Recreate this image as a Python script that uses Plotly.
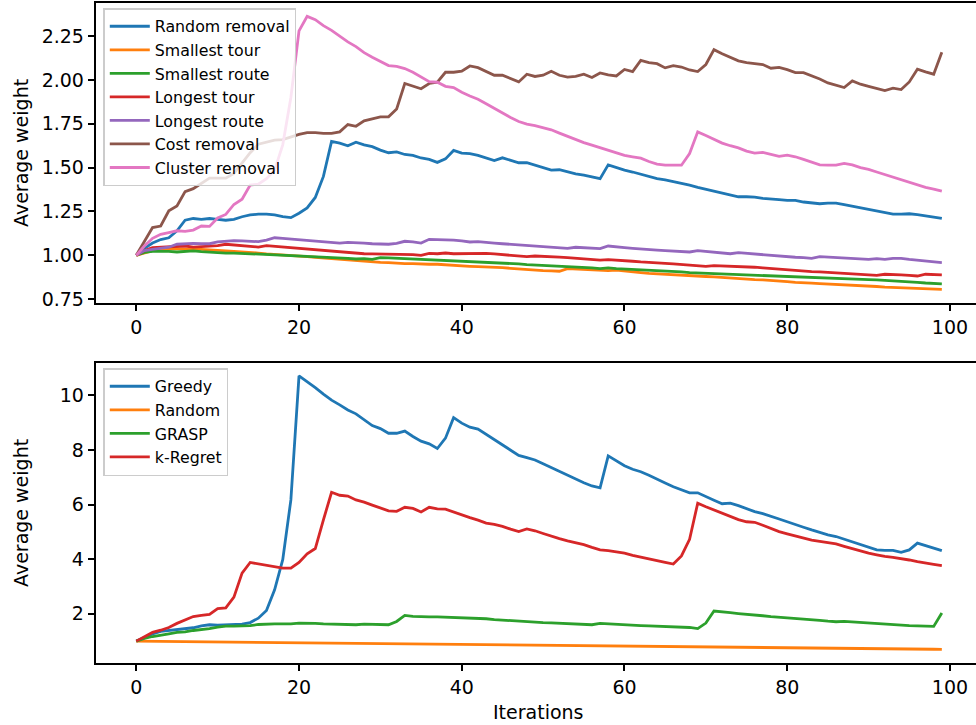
import plotly.graph_objects as go

iterations = list(range(100))

random_removal = [1.0, 1.04, 1.07, 1.09, 1.10, 1.14, 1.20, 1.21, 1.205, 1.21,
                  1.205, 1.20, 1.205, 1.22, 1.23, 1.235, 1.235, 1.23, 1.22, 1.215,
                  1.24, 1.27, 1.33, 1.45, 1.65, 1.64, 1.625, 1.645, 1.63, 1.62,
                  1.60, 1.585, 1.59, 1.575, 1.57, 1.555, 1.547, 1.53, 1.55, 1.598,
                  1.583, 1.58, 1.57, 1.556, 1.54, 1.556, 1.54, 1.528, 1.528, 1.514,
                  1.50, 1.486, 1.488, 1.476, 1.465, 1.457, 1.448, 1.437, 1.516, 1.50,
                  1.486, 1.475, 1.461, 1.448, 1.437, 1.43, 1.42, 1.412, 1.40, 1.387,
                  1.376, 1.364, 1.353, 1.342, 1.334, 1.334, 1.332, 1.325, 1.323, 1.317,
                  1.313, 1.313, 1.304, 1.298, 1.294, 1.298, 1.298, 1.289, 1.28, 1.27,
                  1.26, 1.25, 1.243, 1.235, 1.235, 1.237, 1.232, 1.226, 1.218, 1.21]

smallest_tour = [1.0, 1.015, 1.027, 1.034, 1.036, 1.038, 1.034, 1.038, 1.034, 1.03,
                 1.027, 1.025, 1.023, 1.021, 1.017, 1.013, 1.008, 1.004, 1.002, 0.998,
                 0.996, 0.992, 0.989, 0.985, 0.981, 0.977, 0.973, 0.97, 0.966, 0.962,
                 0.96, 0.958, 0.954, 0.953, 0.953, 0.949, 0.949, 0.949, 0.945, 0.943,
                 0.941, 0.937, 0.935, 0.934, 0.932, 0.93, 0.926, 0.922, 0.918, 0.916,
                 0.913, 0.911, 0.909, 0.924, 0.922, 0.92, 0.916, 0.915, 0.913, 0.915,
                 0.909, 0.905, 0.901, 0.897, 0.894, 0.89, 0.888, 0.886, 0.882, 0.879,
                 0.879, 0.877, 0.873, 0.869, 0.865, 0.863, 0.861, 0.86, 0.858, 0.854,
                 0.85, 0.846, 0.842, 0.841, 0.839, 0.837, 0.835, 0.831, 0.829, 0.827,
                 0.823, 0.822, 0.818, 0.816, 0.814, 0.812, 0.81, 0.81, 0.808, 0.806]

smallest_route = [1.0, 1.017, 1.023, 1.025, 1.023, 1.019, 1.021, 1.025, 1.021, 1.017,
                  1.015, 1.013, 1.013, 1.011, 1.008, 1.006, 1.006, 1.004, 1.002, 0.998,
                  0.996, 0.992, 0.99, 0.99, 0.987, 0.985, 0.983, 0.979, 0.981, 0.977,
                  0.987, 0.985, 0.983, 0.981, 0.977, 0.975, 0.975, 0.972, 0.97, 0.968,
                  0.966, 0.962, 0.96, 0.958, 0.96, 0.956, 0.954, 0.951, 0.947, 0.945,
                  0.941, 0.939, 0.937, 0.934, 0.934, 0.93, 0.928, 0.924, 0.928, 0.924,
                  0.922, 0.92, 0.916, 0.913, 0.915, 0.911, 0.907, 0.905, 0.901, 0.899,
                  0.897, 0.896, 0.894, 0.892, 0.89, 0.888, 0.886, 0.884, 0.882, 0.88,
                  0.877, 0.875, 0.873, 0.871, 0.869, 0.867, 0.865, 0.867, 0.865, 0.863,
                  0.861, 0.86, 0.858, 0.854, 0.852, 0.848, 0.846, 0.842, 0.841, 0.837]

longest_tour = [1.0, 1.027, 1.044, 1.047, 1.049, 1.049, 1.053, 1.047, 1.049, 1.053,
                1.055, 1.063, 1.059, 1.055, 1.051, 1.047, 1.055, 1.051, 1.049, 1.046,
                1.042, 1.038, 1.034, 1.03, 1.027, 1.023, 1.017, 1.013, 1.009, 1.008,
                1.008, 1.006, 1.004, 1.006, 1.004, 1.0, 1.011, 1.009, 1.013, 1.009,
                1.009, 1.011, 1.013, 1.011, 1.008, 1.004, 1.0, 0.996, 0.992, 0.996,
                0.994, 0.996, 0.99, 0.987, 0.983, 0.979, 0.975, 0.972, 0.975, 0.973,
                0.97, 0.966, 0.962, 0.958, 0.956, 0.954, 0.951, 0.947, 0.945, 0.941,
                0.937, 0.941, 0.939, 0.941, 0.939, 0.935, 0.932, 0.928, 0.924, 0.92,
                0.916, 0.913, 0.911, 0.907, 0.905, 0.901, 0.899, 0.897, 0.894, 0.892,
                0.888, 0.886, 0.892, 0.892, 0.888, 0.886, 0.882, 0.892, 0.892, 0.888]

longest_route = [1.0, 1.027, 1.034, 1.04, 1.046, 1.063, 1.066, 1.068, 1.066, 1.066,
                 1.076, 1.08, 1.084, 1.082, 1.078, 1.078, 1.087, 1.10, 1.097, 1.093,
                 1.09, 1.085, 1.084, 1.08, 1.076, 1.07, 1.074, 1.074, 1.07, 1.066,
                 1.065, 1.063, 1.068, 1.08, 1.076, 1.07, 1.091, 1.089, 1.091, 1.087,
                 1.082, 1.076, 1.078, 1.076, 1.07, 1.066, 1.063, 1.061, 1.055, 1.051,
                 1.049, 1.046, 1.042, 1.04, 1.046, 1.044, 1.04, 1.038, 1.053, 1.047,
                 1.044, 1.04, 1.038, 1.034, 1.03, 1.027, 1.023, 1.023, 1.019, 1.027,
                 1.023, 1.019, 1.011, 1.009, 1.015, 1.011, 1.006, 1.002, 0.998, 0.996,
                 0.992, 0.989, 0.987, 0.983, 0.992, 0.99, 0.989, 0.985, 0.983, 0.979,
                 0.977, 0.981, 0.977, 0.983, 0.983, 0.977, 0.973, 0.968, 0.964, 0.958]

cost_removal = [1.0, 1.078, 1.158, 1.167, 1.254, 1.281, 1.363, 1.38, 1.41, 1.44,
                1.44, 1.44, 1.467, 1.524, 1.585, 1.634, 1.647, 1.657, 1.66, 1.676,
                1.69, 1.70, 1.70, 1.695, 1.695, 1.704, 1.746, 1.736, 1.767, 1.778,
                1.79, 1.79, 1.835, 1.98, 1.964, 1.95, 1.98, 1.987, 2.044, 2.044,
                2.05, 2.08, 2.07, 2.05, 2.027, 2.027, 2.006, 1.989, 2.033, 2.02,
                2.027, 2.05, 2.027, 2.016, 2.021, 2.033, 2.014, 2.04, 2.029, 2.023,
                2.06, 2.048, 2.112, 2.099, 2.093, 2.069, 2.082, 2.074, 2.057, 2.048,
                2.088, 2.173, 2.15, 2.128, 2.109, 2.099, 2.093, 2.088, 2.067, 2.072,
                2.059, 2.042, 2.042, 2.025, 2.006, 1.983, 1.968, 1.957, 1.995, 1.976,
                1.964, 1.951, 1.94, 1.953, 1.945, 1.989, 2.061, 2.046, 2.033, 2.158]

cluster_removal = [1.0, 1.053, 1.097, 1.12, 1.13, 1.14, 1.137, 1.144, 1.167, 1.165,
                   1.213, 1.233, 1.29, 1.32, 1.40, 1.406, 1.437, 1.486, 1.63, 1.90,
                   2.28, 2.363, 2.344, 2.31, 2.283, 2.25, 2.217, 2.19, 2.156, 2.13,
                   2.107, 2.082, 2.078, 2.065, 2.044, 2.017, 1.99, 1.987, 1.964, 1.957,
                   1.93, 1.909, 1.89, 1.864, 1.837, 1.812, 1.786, 1.763, 1.748, 1.74,
                   1.729, 1.716, 1.697, 1.678, 1.659, 1.643, 1.628, 1.613, 1.598, 1.585,
                   1.57, 1.562, 1.554, 1.535, 1.52, 1.514, 1.514, 1.514, 1.58, 1.704,
                   1.683, 1.66, 1.64, 1.625, 1.613, 1.594, 1.583, 1.587, 1.575, 1.564,
                   1.571, 1.562, 1.547, 1.531, 1.516, 1.514, 1.514, 1.524, 1.516, 1.50,
                   1.49, 1.475, 1.46, 1.448, 1.433, 1.418, 1.402, 1.387, 1.378, 1.366]

greedy = [1.0, 1.14, 1.26, 1.36, 1.39, 1.44, 1.46, 1.49, 1.56, 1.60,
          1.59, 1.60, 1.60, 1.62, 1.68, 1.84, 2.12, 2.88, 3.98, 6.17,
          10.71, 10.5, 10.28, 10.04, 9.82, 9.65, 9.46, 9.32, 9.10, 8.89,
          8.78, 8.61, 8.61, 8.69, 8.49, 8.32, 8.22, 8.05, 8.43, 9.18,
          8.98, 8.83, 8.76, 8.57, 8.38, 8.18, 7.99, 7.80, 7.72, 7.63,
          7.49, 7.35, 7.19, 7.07, 6.94, 6.80, 6.68, 6.61, 7.78, 7.61,
          7.42, 7.29, 7.20, 7.07, 6.94, 6.79, 6.65, 6.55, 6.43, 6.43,
          6.28, 6.16, 6.03, 6.05, 5.96, 5.84, 5.74, 5.67, 5.56, 5.47,
          5.37, 5.26, 5.17, 5.07, 4.98, 4.89, 4.83, 4.73, 4.64, 4.54,
          4.44, 4.34, 4.32, 4.32, 4.25, 4.34, 4.59, 4.50, 4.40, 4.31]

random_insert = [1.0, 0.997, 0.994, 0.990, 0.987, 0.984, 0.981, 0.978, 0.975, 0.972,
                 0.969, 0.966, 0.963, 0.960, 0.957, 0.953, 0.950, 0.947, 0.944, 0.941,
                 0.938, 0.935, 0.932, 0.929, 0.926, 0.923, 0.920, 0.917, 0.914, 0.911,
                 0.908, 0.905, 0.902, 0.899, 0.896, 0.893, 0.890, 0.887, 0.884, 0.881,
                 0.878, 0.875, 0.872, 0.869, 0.866, 0.863, 0.860, 0.857, 0.854, 0.851,
                 0.848, 0.845, 0.842, 0.839, 0.836, 0.833, 0.830, 0.827, 0.824, 0.821,
                 0.818, 0.815, 0.812, 0.809, 0.806, 0.803, 0.800, 0.797, 0.794, 0.791,
                 0.788, 0.785, 0.782, 0.779, 0.776, 0.773, 0.770, 0.767, 0.764, 0.761,
                 0.758, 0.755, 0.752, 0.749, 0.746, 0.743, 0.740, 0.737, 0.734, 0.731,
                 0.728, 0.725, 0.722, 0.719, 0.716, 0.713, 0.710, 0.707, 0.704, 0.701]

grasp = [1.0, 1.10, 1.17, 1.23, 1.27, 1.32, 1.34, 1.39, 1.42, 1.46,
         1.51, 1.55, 1.55, 1.55, 1.57, 1.61, 1.63, 1.63, 1.63, 1.63,
         1.66, 1.66, 1.65, 1.63, 1.62, 1.61, 1.60, 1.60, 1.62, 1.61,
         1.60, 1.60, 1.72, 1.94, 1.91, 1.89, 1.89, 1.89, 1.88, 1.87,
         1.84, 1.85, 1.84, 1.82, 1.79, 1.77, 1.74, 1.73, 1.71, 1.70,
         1.68, 1.67, 1.66, 1.65, 1.63, 1.62, 1.60, 1.65, 1.63, 1.62,
         1.61, 1.59, 1.57, 1.56, 1.55, 1.54, 1.52, 1.51, 1.50, 1.46,
         1.66, 2.10, 2.06, 2.04, 2.01, 1.99, 1.95, 1.93, 1.90, 1.88,
         1.85, 1.83, 1.81, 1.78, 1.76, 1.73, 1.71, 1.72, 1.70, 1.67,
         1.66, 1.63, 1.61, 1.60, 1.59, 1.57, 1.56, 1.55, 1.54, 2.03]

k_regret = [1.0, 1.17, 1.32, 1.40, 1.50, 1.65, 1.78, 1.90, 1.94, 1.98,
            2.19, 2.22, 2.61, 3.49, 3.88, 3.83, 3.77, 3.71, 3.67, 3.67,
            3.88, 4.20, 4.39, 5.44, 6.45, 6.34, 6.31, 6.17, 6.09, 5.98,
            5.87, 5.77, 5.75, 5.90, 5.86, 5.73, 5.90, 5.84, 5.83, 5.72,
            5.62, 5.52, 5.43, 5.32, 5.27, 5.20, 5.10, 5.01, 5.11, 5.04,
            4.94, 4.84, 4.75, 4.67, 4.61, 4.53, 4.43, 4.34, 4.31, 4.26,
            4.22, 4.14, 4.07, 4.00, 3.94, 3.88, 3.82, 4.12, 4.73, 6.05,
            5.92, 5.80, 5.68, 5.56, 5.45, 5.37, 5.35, 5.24, 5.12, 5.01,
            4.93, 4.85, 4.78, 4.70, 4.65, 4.60, 4.56, 4.47, 4.38, 4.29,
            4.22, 4.16, 4.10, 4.07, 4.03, 3.97, 3.91, 3.85, 3.81, 3.76]

top_names = ["Random removal", "Smallest tour", "Smallest route", "Longest tour",
             "Longest route", "Cost removal", "Cluster removal"]
top_series = [random_removal, smallest_tour, smallest_route, longest_tour,
              longest_route, cost_removal, cluster_removal]
bottom_names = ["Greedy", "Random", "GRASP", "k-Regret"]
bottom_series = [greedy, random_insert, grasp, k_regret]

colors = ["#1f77b4", "#ff7f0e", "#2ca02c", "#d62728", "#9467bd", "#8c564b", "#e377c2"]

FONT = "DejaVu Sans"
LW = 2.8
W, H = 976, 725
ML, MR, MT, MB = 96, 0, 3, 62

fig = go.Figure()
for name, ys, c in zip(top_names, top_series, colors):
    fig.add_trace(go.Scatter(x=iterations, y=ys, mode="lines", name=name,
                             line=dict(color=c, width=LW), xaxis="x", yaxis="y",
                             legend="legend"))
for name, ys, c in zip(bottom_names, bottom_series, colors):
    fig.add_trace(go.Scatter(x=iterations, y=ys, mode="lines", name=name,
                             line=dict(color=c, width=LW), xaxis="x2", yaxis="y2",
                             legend="legend2"))

axis_common = dict(showline=True, linecolor="black", linewidth=1.5,
                   ticks="outside", ticklen=6.5, tickwidth=1.5, tickcolor="black",
                   showgrid=False, zeroline=False, automargin=False,
                   tickfont=dict(family=FONT, size=19, color="black"))

x_ticks = dict(tickmode="array", tickvals=[0, 20, 40, 60, 80, 100],
               ticktext=["0", "20", "40", "60", "80", "100"])

legend_common = dict(bgcolor="rgba(255,255,255,0.8)", bordercolor="#cccccc",
                     borderwidth=1.5, xanchor="left", yanchor="top",
                     font=dict(family=FONT, size=15.8, color="black"),
                     itemwidth=40, tracegroupgap=0)

plot_h = H - MT - MB
top_dom = [(H - MB - 303) / plot_h, 1]
bot_dom = [0, (H - MB - 363.3) / plot_h]


def px_to_paper_x(px):
    return (px - ML) / (W - ML - MR)


def px_to_paper_y(py):
    return (H - MB - py) / plot_h


title_font = dict(family=FONT, size=19, color="black")
annotations = [
    dict(text="Average weight", x=px_to_paper_x(21), y=px_to_paper_y(153),
         xref="paper", yref="paper", showarrow=False, textangle=-90,
         xanchor="center", yanchor="middle", font=title_font),
    dict(text="Average weight", x=px_to_paper_x(21), y=px_to_paper_y(513),
         xref="paper", yref="paper", showarrow=False, textangle=-90,
         xanchor="center", yanchor="middle", font=title_font),
    dict(text="Iterations", x=px_to_paper_x(538), y=px_to_paper_y(712),
         xref="paper", yref="paper", showarrow=False,
         xanchor="center", yanchor="middle", font=title_font),
]

fig.update_layout(
    width=W, height=H,
    margin=dict(l=ML, r=MR, t=MT, b=MB, autoexpand=False),
    paper_bgcolor="white", plot_bgcolor="white",
    font=dict(family=FONT, color="black"),
    showlegend=True,
    xaxis=dict(domain=[0, 1], range=[-4.95, 103.2], anchor="y", mirror=True,
               **x_ticks, **axis_common),
    yaxis=dict(domain=top_dom, range=[0.728, 2.439], anchor="x",
               tickmode="array", tickvals=[0.75, 1.0, 1.25, 1.5, 1.75, 2.0, 2.25],
               ticktext=["0.75", "1.00", "1.25", "1.50", "1.75", "2.00", "2.25"],
               **axis_common),
    xaxis2=dict(domain=[0, 1], range=[-4.95, 103.2], anchor="y2", mirror=True,
                **x_ticks, **axis_common),
    yaxis2=dict(domain=bot_dom, range=[0.2, 11.17], anchor="x2",
                tickmode="array", tickvals=[2, 4, 6, 8, 10],
                ticktext=["2", "4", "6", "8", "10"],
                **axis_common),
    legend=dict(x=px_to_paper_x(103.3), y=px_to_paper_y(8), **legend_common),
    legend2=dict(x=px_to_paper_x(103.3), y=px_to_paper_y(368), **legend_common),
    annotations=annotations,
)

fig.write_html(
    "out.html",
    config={"displayModeBar": False},
    post_script="document.body.style.margin='0px';document.body.style.overflow='hidden';",
)
